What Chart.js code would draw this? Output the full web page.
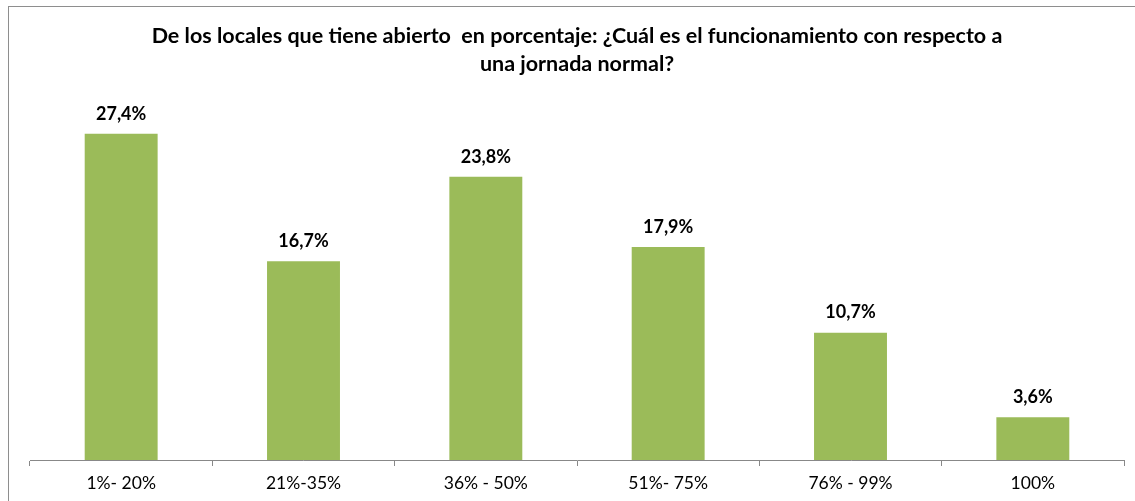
<!DOCTYPE html>
<html>
<head>
<meta charset="utf-8">
<script src="https://cdn.jsdelivr.net/npm/chart.js@4"></script>
<style>
    body { margin: 0; background: #fff; }
    #wrap { position: relative; width: 1135px; height: 501px; overflow: hidden; }
    #frame { position: absolute; left: 8px; top: 6px; width: 1200px; height: 600px; border: 1px solid #8e8e8e; }
    canvas { position: absolute; left: 0; top: 0; }
</style>
</head>
<body>
<div id="wrap">
    <div id="frame"></div>
    <canvas id="chart" width="1135" height="501"></canvas>
</div>
<script>
// Chart data
const categories = ['1%- 20%', '21%-35%', '36% - 50%', '51%- 75%', '76% - 99%', '100%'];
const values = [27.4, 16.7, 23.8, 17.9, 10.7, 3.6];
const titleLines = [
    'De los locales que tiene abierto  en porcentaje: ¿Cuál es el funcionamiento con respecto a',
    'una jornada normal?'
];

// Draw the value above each bar
const valueLabels = {
    id: 'valueLabels',
    afterDatasetsDraw(chart) {
        const ctx = chart.ctx;
        const meta = chart.getDatasetMeta(0);
        ctx.save();
        ctx.font = 'bold 18px Lato, sans-serif';
        ctx.fillStyle = '#000';
        ctx.textAlign = 'center';
        ctx.textBaseline = 'middle';
        meta.data.forEach((bar, i) => {
            const txt = values[i].toFixed(1).replace('.', ',') + '%';
            ctx.fillText(txt, bar.x, bar.y - 20);
        });
        ctx.restore();
    }
};

new Chart(document.getElementById('chart'), {
    type: 'bar',
    data: {
        labels: categories,
        datasets: [{
            data: values,
            backgroundColor: '#9bbb59',
            barPercentage: 0.4,
            categoryPercentage: 1
        }]
    },
    options: {
        responsive: false,
        animation: false,
        layout: { padding: { left: 30, right: 11, top: 22, bottom: 0 } },
        scales: {
            x: {
                offset: true,
                grid: {
                    offset: true,
                    drawOnChartArea: false,
                    color: '#888',
                    tickLength: 6
                },
                border: { color: '#888' },
                ticks: {
                    color: '#000',
                    padding: 7,
                    font: { family: 'Lato, sans-serif', size: 17.5 }
                }
            },
            y: {
                display: false,
                min: 0,
                max: 30
            }
        },
        plugins: {
            legend: { display: false },
            tooltip: { enabled: false },
            title: {
                display: true,
                text: titleLines,
                color: '#000',
                font: { family: 'Lato, sans-serif', size: 21.5, weight: 'bold', lineHeight: 1.3 },
                padding: { top: 0, bottom: 25 }
            }
        }
    },
    plugins: [valueLabels]
});
</script>
</body>
</html>
